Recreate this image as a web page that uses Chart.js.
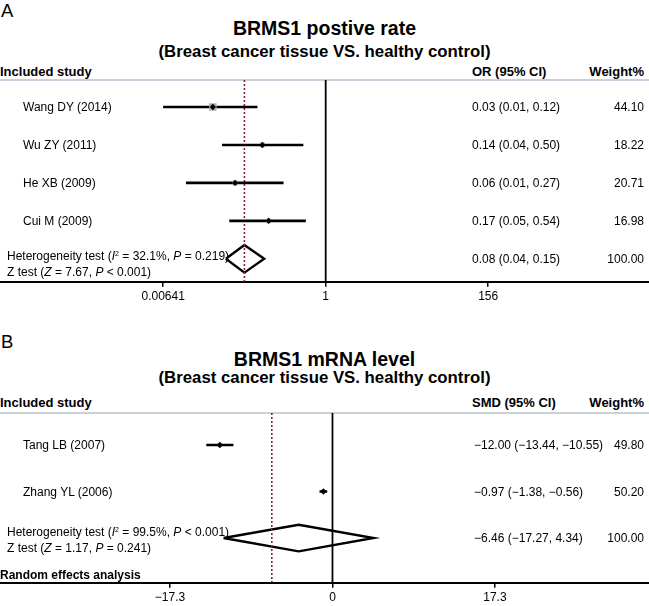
<!DOCTYPE html>
<html>
<head>
<meta charset="utf-8">
<title>BRMS1 forest plots</title>
<script src="https://cdn.jsdelivr.net/npm/chart.js@4/dist/chart.umd.min.js"></script>
<style>
  html, body { margin: 0; padding: 0; background: #fff; }
  #page {
    position: relative; width: 649px; height: 606px; overflow: hidden;
    font-family: "Liberation Sans", Arial, Helvetica, sans-serif; color: #000;
  }
  #page canvas { position: absolute; left: 0; }
  .t { position: absolute; white-space: nowrap; line-height: 1; transform: translateY(-50%); font-size: 12px; }
  .b { font-weight: bold; }
  .c { left: 0; width: 649px; text-align: center; }
  .sep { position: absolute; left: 0; width: 649px; height: 2px; background: #c9d2da; }
  .sup { font-size: 7px; position: relative; top: -4px; }
</style>
</head>
<body>
<div id="page">
  <div class="t" style="left:1px;top:11px;font-size:18.5px">A</div>
  <div class="t b c" style="top:29px;font-size:19.5px">BRMS1 postive rate</div>
  <div class="t b c" style="top:52px;font-size:16.8px">(Breast cancer tissue VS. healthy control)</div>
  <div class="t b" style="left:0;top:71px;font-size:13px">Included study</div>
  <div class="t b" style="left:472px;top:71px;font-size:13px">OR (95% CI)</div>
  <div class="t b" style="right:5px;top:71px;font-size:13px">Weight%</div>
  <div class="sep" style="top:79px"></div>
  <canvas id="chart-a" width="649" height="310" style="top:0"></canvas>

  <div class="t" style="left:1px;top:342px;font-size:18.5px">B</div>
  <div class="t b c" style="top:360px;font-size:19.5px">BRMS1 mRNA level</div>
  <div class="t b c" style="top:378px;font-size:16.8px">(Breast cancer tissue VS. healthy control)</div>
  <div class="t b" style="left:0;top:402px;font-size:13px">Included study</div>
  <div class="t b" style="left:472px;top:402px;font-size:13px">SMD (95% CI)</div>
  <div class="t b" style="right:5px;top:402px;font-size:13px">Weight%</div>
  <div class="sep" style="top:412px"></div>
  <canvas id="chart-b" width="649" height="296" style="top:310px"></canvas>
</div>

<script>
// ── Panel A: BRMS1 positive rate, odds ratio (log axis) ──────────────────
var A_STUDIES = ['Wang DY (2014)', 'Wu ZY (2011)', 'He XB (2009)', 'Cui M (2009)'];
var A_OR = [0.03, 0.14, 0.06, 0.17];
var A_LOW = [0.0064, 0.04, 0.013, 0.05];   // (Wang DY runs to the left tick)
var A_HIGH = [0.12, 0.50, 0.27, 0.54];
var A_WEIGHT = [44.10, 18.22, 20.71, 16.98];
var A_CI_TEXT = ['0.03 (0.01, 0.12)', '0.14 (0.04, 0.50)', '0.06 (0.01, 0.27)', '0.17 (0.05, 0.54)'];
var A_WEIGHT_TEXT = ['44.10', '18.22', '20.71', '16.98'];
var A_DIAMOND = [0.045, 0.08, 0.148];      // low, estimate, high
var A_POOLED_TEXT = '0.08 (0.04, 0.15)';
var A_HET = 'Heterogeneity test (<i>I</i><span class="sup">2</span> = 32.1%, <i>P</i> = 0.219)';
var A_ZTEST = 'Z test (<i>Z</i> = 7.67, <i>P</i> &lt; 0.001)';
var A_TICKS = [0.00641, 1, 156];
var A_TICK_LABELS = ['0.00641', '1', '156'];

// ── Panel B: BRMS1 mRNA level, standardised mean difference ──────────────
var B_STUDIES = ['Tang LB (2007)', 'Zhang YL (2006)'];
var B_SMD = [-12.00, -0.97];
var B_LOW = [-13.44, -1.38];
var B_HIGH = [-10.55, -0.56];
var B_CI_TEXT = ['\u221212.00 (\u221213.44, \u221210.55)', '\u22120.97 (\u22121.38, \u22120.56)'];
var B_WEIGHT_TEXT = ['49.80', '50.20'];
var B_DIAMOND = [-11.6, -3.6, 4.37];        // diamond as it is drawn in the figure
var B_POOLED = -6.46;
var B_POOLED_TEXT = '\u22126.46 (\u221217.27, 4.34)';
var B_HET = 'Heterogeneity test (<i>I</i><span class="sup">2</span> = 99.5%, <i>P</i> &lt; 0.001)';
var B_ZTEST = 'Z test (<i>Z</i> = 1.17, <i>P</i> = 0.241)';
var B_TICKS = [-17.3, 0, 17.3];
var B_TICK_LABELS = ['\u221217.3', '0', '17.3'];

var FONT = '"Liberation Sans", Arial, Helvetica, sans-serif';
var DASH_RED = '#8a2338';

function seg(points, color, width) {
  return {
    data: points, showLine: true, borderColor: color, borderWidth: width,
    pointRadius: 0, fill: false, tension: 0, borderCapStyle: 'butt', borderJoinStyle: 'miter'
  };
}

function addText(html, css, cls) {
  var d = document.createElement('div');
  d.className = 't' + (cls ? ' ' + cls : '');
  d.innerHTML = html;
  for (var k in css) d.style[k] = css[k];
  document.getElementById('page').appendChild(d);
}

function buildPanel(p) {
  var n = p.est.length;
  var ds = [];
  var d = p.diamond, h = p.diamondHalf;
  ds.push(seg([
    { x: d[0], y: n }, { x: d[1], y: n - h }, { x: d[2], y: n },
    { x: d[1], y: n + h }, { x: d[0], y: n }
  ], '#000', 2.4));
  ds.push(seg([{ x: p.nullX, y: p.yMin }, { x: p.nullX, y: p.yMax }], '#000', 1.8));
  var dash = seg([{ x: p.pooled, y: p.yMin }, { x: p.pooled, y: p.yMax }], DASH_RED, 1.6);
  dash.borderDash = [2, 2];
  ds.push(dash);
  p.est.forEach(function (e, i) {
    ds.push(seg([{ x: p.low[i], y: i }, { x: p.high[i], y: i }], '#000', 2.6));
  });
  if (p.weight) {
    ds.push({
      data: p.est.map(function (e, i) { return { x: e, y: i }; }),
      pointStyle: 'rect', pointBackgroundColor: '#a9b5be', pointBorderWidth: 0,
      pointRadius: p.weight.map(function (w) { return 5.3 * Math.sqrt(w / 44.1); })
    });
  }
  ds.push({
    data: p.est.map(function (e, i) { return { x: e, y: i }; }),
    pointStyle: 'rectRot', pointRadius: 3.2, pointBackgroundColor: '#000', pointBorderWidth: 0
  });
  // Chart.js paints dataset 0 last (on top), so flip to keep the markers above the lines
  ds.reverse();

  var chart = new Chart(document.getElementById(p.id), {
    type: 'scatter',
    data: { datasets: ds },
    options: {
      responsive: false,
      animation: false,
      events: [],
      layout: { padding: { top: p.padTop, left: 0, right: 0, bottom: 0 }, autoPadding: false },
      plugins: { legend: { display: false }, tooltip: { enabled: false } },
      scales: {
        x: {
          type: p.xType, min: p.xMin, max: p.xMax,
          afterBuildTicks: function (s) { s.ticks = p.ticks.map(function (v) { return { value: v }; }); },
          afterFit: function (s) { s.height = p.axisH; },
          grid: { drawOnChartArea: false, drawTicks: true, tickLength: 5, color: '#000', lineWidth: 1.5 },
          border: { display: true, color: '#000', width: 2 },
          ticks: {
            autoSkip: false, maxRotation: 0, minRotation: 0, padding: 3, color: '#000',
            font: { family: FONT, size: 12 },
            callback: function (v, i) { return p.tickLabels[i]; }
          }
        },
        y: { type: 'linear', display: false, reverse: true, min: p.yMin, max: p.yMax }
      }
    }
  });

  var ys = chart.scales.y;
  function rowY(v) { return (p.top + ys.getPixelForValue(v)) + 'px'; }
  p.studies.forEach(function (s, i) {
    addText(s, { left: '23px', top: rowY(i) });
    addText(p.ciText[i], { left: p.colX + 'px', top: rowY(i) });
    addText(p.weightText[i], { right: '5px', top: rowY(i) });
  });
  addText(p.het + '<br>' + p.ztest, { left: '7px', top: (p.top + ys.getPixelForValue(n) + p.hetOffset) + 'px', lineHeight: '14.5px' });
  addText(p.pooledText, { left: p.colX + 'px', top: rowY(n) });
  addText('100.00', { right: '5px', top: rowY(n) });
  if (p.footer) addText(p.footer, { left: '0', top: rowY(p.footerRow) }, 'b');
  return chart;
}

buildPanel({
  id: 'chart-a', top: 0, padTop: 80, axisH: 28.3,
  xType: 'logarithmic', xMin: Math.pow(10, -4.395), xMax: Math.pow(10, 4.363),
  yMin: -0.7115, yMax: 4.603,
  nullX: 1, pooled: A_DIAMOND[1],
  est: A_OR, low: A_LOW, high: A_HIGH, weight: A_WEIGHT,
  diamond: A_DIAMOND, diamondHalf: 0.364,
  ticks: A_TICKS, tickLabels: A_TICK_LABELS,
  studies: A_STUDIES, ciText: A_CI_TEXT, weightText: A_WEIGHT_TEXT,
  pooledText: A_POOLED_TEXT, het: A_HET, ztest: A_ZTEST, hetOffset: 5,
  colX: 472
});

buildPanel({
  id: 'chart-b', top: 310, padTop: 103, axisH: 23.3,
  xType: 'linear', xMin: -35.41, xMax: 33.71,
  yMin: -0.688, yMax: 2.961,
  nullX: 0, pooled: B_POOLED,
  est: B_SMD, low: B_LOW, high: B_HIGH, weight: null,
  diamond: B_DIAMOND, diamondHalf: 0.286,
  ticks: B_TICKS, tickLabels: B_TICK_LABELS,
  studies: B_STUDIES, ciText: B_CI_TEXT, weightText: B_WEIGHT_TEXT,
  pooledText: B_POOLED_TEXT, het: B_HET, ztest: B_ZTEST, hetOffset: 1.5,
  colX: 474,
  footer: 'Random effects analysis', footerRow: 2.8
});
</script>
</body>
</html>
